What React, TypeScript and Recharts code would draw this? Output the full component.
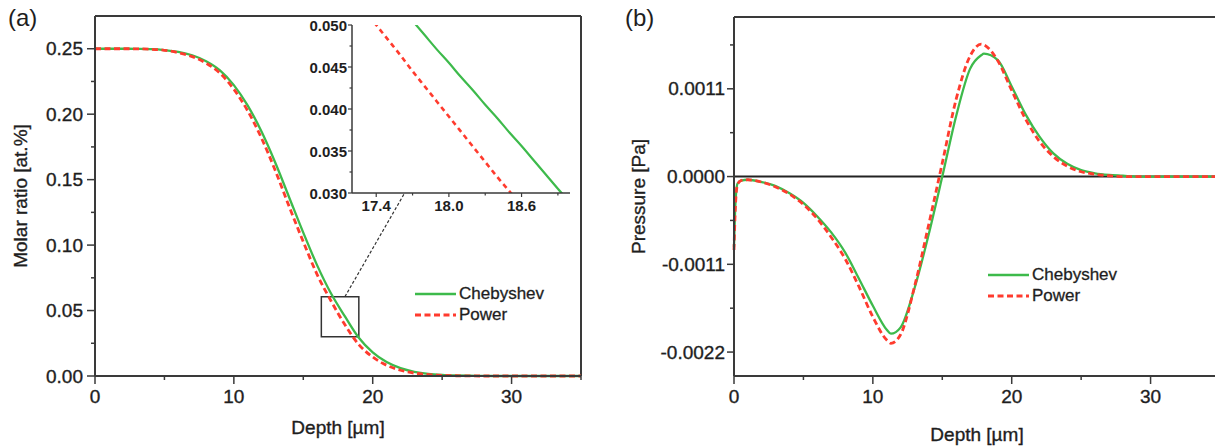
import React from 'react';
import { LineChart, Line, XAxis, YAxis, ReferenceLine, ReferenceArea, Legend } from 'recharts';

const FONT = '"Liberation Sans", Arial, Helvetica, sans-serif';
const INK = '#1e1e1e';
const AXIS = '#3a3a3a';
const GREEN = '#3dba4b';
const RED = '#ff3b2e';

// (a) molar ratio vs depth
const depthA = [0, 1, 2, 3, 4, 5, 6, 7, 8, 9, 10, 11, 12, 13, 14, 15, 16, 17, 18, 19, 20, 21, 22, 23, 24, 25, 26, 27, 28, 29, 30, 31, 32, 33, 34, 35];
const chebA = [0.25, 0.25, 0.25, 0.2499, 0.2497, 0.249, 0.2476, 0.245, 0.2405, 0.2335, 0.2222, 0.2065, 0.1865, 0.1625, 0.136, 0.1095, 0.0845, 0.063, 0.0455, 0.0292, 0.018, 0.0106, 0.006, 0.0032, 0.0016, 0.0008, 0.0004, 0.0002, 0.0001, 0, 0, 0, 0, 0, 0, 0];
const powerA = [0.25, 0.25, 0.25, 0.2499, 0.2496, 0.2488, 0.247, 0.244, 0.239, 0.2313, 0.219, 0.2025, 0.1815, 0.1565, 0.129, 0.1025, 0.0775, 0.0573, 0.0391, 0.024, 0.0145, 0.0082, 0.0044, 0.0022, 0.0011, 0.0005, 0.0002, 0.0001, 0, 0, 0, 0, 0, 0, 0, 0];

// inset: zoom on 17.2-19.0 um
const depthIn = [17.2, 17.3, 17.4, 17.5, 17.6, 17.7, 17.8, 17.9, 18.0, 18.1, 18.2, 18.3, 18.4, 18.5, 18.6, 18.7, 18.8, 18.9, 19.0];
const chebIn = [0.0593, 0.0575, 0.0557, 0.0539, 0.0522, 0.0505, 0.0488, 0.0471, 0.0455, 0.0438, 0.0422, 0.0405, 0.0389, 0.0372, 0.0356, 0.0339, 0.0322, 0.0305, 0.0289];
const powerIn = [0.0537, 0.0518, 0.05, 0.0482, 0.0464, 0.0445, 0.0427, 0.0409, 0.0391, 0.0373, 0.0355, 0.0337, 0.0319, 0.0302, 0.0285, 0.0269, 0.0253, 0.0238, 0.0224];

// (b) pressure vs depth
const depthB = [0, 0.1, 0.25, 0.5, 1, 2, 3, 4, 5, 6, 7, 8, 9, 10, 11, 11.3, 12, 13, 14, 15, 16, 17, 17.8, 18, 19, 20, 21, 22, 23, 24, 25, 26, 27, 28, 29, 30, 35];
const chebB = [-0.00088, -0.00035, -0.00009, -0.00005, -0.00004, -0.00007, -0.00012, -0.00021, -0.00033, -0.0005, -0.0007, -0.00095, -0.00128, -0.00162, -0.00192, -0.00197, -0.00189, -0.0014, -0.00074, 0, 0.00076, 0.00135, 0.00152, 0.00154, 0.00146, 0.00113, 0.00078, 0.0005, 0.00029, 0.00016, 0.00008, 0.00004, 0.00002, 0.00001, 0, 0, 0];
const powerB = [-0.00092, -0.00038, -0.0001, -0.00005, -0.00004, -0.00007, -0.00013, -0.00022, -0.00035, -0.00053, -0.00076, -0.00103, -0.00138, -0.00176, -0.00205, -0.00209, -0.00198, -0.00138, -0.00062, 0.00017, 0.00097, 0.00151, 0.00166, 0.00165, 0.00145, 0.00108, 0.00072, 0.00044, 0.00025, 0.00013, 0.00006, 0.00003, 0.00001, 0, 0, 0, 0];

const xTicks = [0, 5, 10, 15, 20, 25, 30, 35];
const xMajors = [0, 10, 20, 30];
const yTicksA = [0, 0.025, 0.05, 0.075, 0.1, 0.125, 0.15, 0.175, 0.2, 0.225, 0.25];
const yMajorsA = [0, 0.05, 0.1, 0.15, 0.2, 0.25];
const yTicksB = [-0.0022, -0.00165, -0.0011, -0.00055, 0, 0.00055, 0.0011, 0.00165];
const yMajorsB = [-0.0022, -0.0011, 0, 0.0011];
const xTicksIn = [17.4, 17.7, 18.0, 18.3, 18.6, 18.9];
const xMajorsIn = [17.4, 18.0, 18.6];
const yTicksIn = [0.03, 0.0325, 0.035, 0.0375, 0.04, 0.0425, 0.045, 0.0475, 0.05];
const yMajorsIn = [0.03, 0.035, 0.04, 0.045, 0.05];

const rowsA = depthA.map((d, i) => ({ depth: d, cheb: chebA[i], power: powerA[i] }));
const rowsIn = depthIn.map((d, i) => ({ depth: d, cheb: chebIn[i], power: powerIn[i] }));
const rowsB = depthB.map((d, i) => ({ depth: d, cheb: chebB[i], power: powerB[i] }));

const isMajor = (list: number[], v: number) => list.some((m) => Math.abs(m - v) < 1e-9);

// the scanned figure's text reads a little heavier than plain Liberation Sans
const heavy = (fs: number, bold = false) => ({
  fontFamily: FONT,
  fontSize: fs,
  fontWeight: bold ? 700 : 400,
  fill: INK,
  stroke: INK,
  strokeWidth: bold ? 0 : 0.35,
});

// ticks drawn by hand so minor ticks get a shorter mark and no label
const leftTick = (majors: number[], fmt: (v: number) => string, size: number, minor: number, margin: number, fs: number, w = 1.5, bold = false) => (props: any) => {
  const { x, y, payload } = props;
  const ax = x + size + margin;
  const big = isMajor(majors, payload.value);
  return (
    <g>
      <line x1={ax} x2={ax - (big ? size : minor)} y1={y} y2={y} stroke={AXIS} strokeWidth={w} />
      {big && (
        <text x={x} y={y} textAnchor="end" dominantBaseline="central" {...heavy(fs, bold)}>
          {fmt(payload.value)}
        </text>
      )}
    </g>
  );
};

const bottomTick = (majors: number[], fmt: (v: number) => string, size: number, minor: number, margin: number, fs: number, w = 1.5, bold = false) => (props: any) => {
  const { x, y, payload } = props;
  const ay = y - size - margin;
  const big = isMajor(majors, payload.value);
  return (
    <g>
      <line x1={x} x2={x} y1={ay} y2={ay + (big ? size : minor)} stroke={AXIS} strokeWidth={w} />
      {big && (
        <text x={x} y={y} dy="0.71em" textAnchor="middle" {...heavy(fs, bold)}>
          {fmt(payload.value)}
        </text>
      )}
    </g>
  );
};

const XTitle = ({ viewBox, text, dy }: any) => {
  const { x = 0, y = 0, width = 0 } = viewBox || {};
  return (
    <text x={x + width / 2} y={y + dy} textAnchor="middle" {...heavy(19)}>
      {text}
    </text>
  );
};

const YTitle = ({ viewBox, text, dx }: any) => {
  const { x = 0, y = 0, height = 0 } = viewBox || {};
  const cx = x + dx;
  const cy = y + height / 2;
  return (
    <text x={cx} y={cy} transform={`rotate(-90 ${cx} ${cy})`} textAnchor="middle" dominantBaseline="central" {...heavy(19)}>
      {text}
    </text>
  );
};

const DASH: Record<string, string | undefined> = { power: '6 3.5' };

const LegendBox = ({ payload }: any) => (
  <div style={{ fontFamily: FONT, fontSize: 17, color: INK, WebkitTextStroke: '0.3px #1e1e1e' }}>
    {(payload || []).map((p: any) => (
      <div key={p.value} style={{ display: 'flex', alignItems: 'center', height: 21.5 }}>
        <svg width={41} height={6} style={{ display: 'block' }}>
          <line x1={0} x2={41} y1={3} y2={3} stroke={p.color} strokeWidth={p.dataKey === 'power' ? 2.8 : 2.3} strokeDasharray={DASH[p.dataKey]} />
        </svg>
        <span style={{ marginLeft: 3 }}>{p.value}</span>
      </div>
    ))}
  </div>
);

const panelTag: React.CSSProperties = { position: 'absolute', fontFamily: FONT, fontSize: 24, color: INK, lineHeight: 'normal' };

export default function App() {
  return (
    <div style={{ position: 'absolute', left: 0, top: 0, width: 1215, height: 448, overflow: 'hidden', background: '#fff' }}>
      <div style={{ ...panelTag, left: 8, top: 4 }}>(a)</div>
      <div style={{ ...panelTag, left: 625, top: 4 }}>(b)</div>

      {/* (a) */}
      <div style={{ position: 'absolute', left: 0, top: 0 }}>
        <LineChart width={600} height={448} data={rowsA} margin={{ top: 16, right: 19, bottom: 0, left: 0 }}>
          <XAxis
            dataKey="depth"
            type="number"
            domain={[0, 35]}
            ticks={xTicks}
            interval={0}
            height={72}
            tickSize={8}
            tickMargin={6}
            tickLine={false}
            axisLine={{ stroke: AXIS, strokeWidth: 2 }}
            tick={bottomTick(xMajors, (v) => String(v), 8, 4, 6, 19)}
            label={<XTitle text="Depth [µm]" dy={58} />}
          />
          <YAxis
            type="number"
            domain={[0, 0.275]}
            ticks={yTicksA}
            interval={0}
            width={95}
            tickSize={8}
            tickMargin={4}
            tickLine={false}
            axisLine={{ stroke: AXIS, strokeWidth: 2 }}
            tick={leftTick(yMajorsA, (v) => v.toFixed(2), 8, 4, 4, 19)}
            label={<YTitle text="Molar ratio [at.%]" dx={20} />}
          />
          <ReferenceLine y={0.275} stroke={AXIS} strokeWidth={2} />
          <ReferenceLine x={35} stroke={AXIS} strokeWidth={2} />
          <ReferenceArea x1={16.3} x2={19} y1={0.03} y2={0.0606} fill="none" stroke="#333" strokeWidth={1.5} />
          <ReferenceLine segment={[{ x: 18.0, y: 0.0606 }, { x: 22.3, y: 0.1398 }]} stroke="#333" strokeWidth={1.2} strokeDasharray="3 2" />
          <Line type="monotone" dataKey="cheb" name="Chebyshev" stroke={GREEN} strokeWidth={2.3} dot={false} isAnimationActive={false} />
          <Line type="monotone" dataKey="power" name="Power" stroke={RED} strokeWidth={2.8} strokeDasharray="6 3.5" dot={false} isAnimationActive={false} />
          <Legend content={<LegendBox />} layout="vertical" align="center" verticalAlign="middle" wrapperStyle={{ left: 415, top: 283, width: 'auto' }} />
        </LineChart>
      </div>

      {/* inset of (a) */}
      <div style={{ position: 'absolute', left: 290, top: 0 }}>
        <LineChart width={290} height={215} data={rowsIn} margin={{ top: 25, right: 10, bottom: 0, left: 0 }}>
          <XAxis
            dataKey="depth"
            type="number"
            domain={[17.2, 19.0]}
            allowDataOverflow
            ticks={xTicksIn}
            interval={0}
            height={22}
            tickSize={4}
            tickMargin={3}
            tickLine={false}
            axisLine={{ stroke: AXIS, strokeWidth: 1.5 }}
            tick={bottomTick(xMajorsIn, (v) => v.toFixed(1), 4, 2.5, 3, 15, 1.2, true)}
          />
          <YAxis
            type="number"
            domain={[0.03, 0.05]}
            allowDataOverflow
            ticks={yTicksIn}
            interval={0}
            width={62}
            tickSize={4}
            tickMargin={1}
            tickLine={false}
            axisLine={{ stroke: AXIS, strokeWidth: 1.5 }}
            tick={leftTick(yMajorsIn, (v) => v.toFixed(3), 4, 2.5, 1, 15, 1.2, true)}
          />
          <Line type="monotone" dataKey="cheb" stroke={GREEN} strokeWidth={2.2} dot={false} isAnimationActive={false} />
          <Line type="monotone" dataKey="power" stroke={RED} strokeWidth={2.6} strokeDasharray="5 4" dot={false} isAnimationActive={false} />
        </LineChart>
      </div>

      {/* (b) */}
      <div style={{ position: 'absolute', left: 600, top: 0 }}>
        <LineChart width={620} height={448} data={rowsB} margin={{ top: 17, right: 0, bottom: 0, left: 0 }}>
          <XAxis
            dataKey="depth"
            type="number"
            domain={[0, 35]}
            ticks={xTicks}
            interval={0}
            height={72}
            tickSize={8}
            tickMargin={6}
            tickLine={false}
            axisLine={{ stroke: AXIS, strokeWidth: 2 }}
            tick={bottomTick(xMajors, (v) => String(v), 8, 4, 6, 19)}
            label={<XTitle text="Depth [µm]" dy={65} />}
          />
          <YAxis
            type="number"
            domain={[-0.0025, 0.002]}
            ticks={yTicksB}
            interval={0}
            width={134}
            tickSize={7}
            tickMargin={2}
            tickLine={false}
            axisLine={{ stroke: AXIS, strokeWidth: 2 }}
            tick={leftTick(yMajorsB, (v) => v.toFixed(4), 7, 4, 2, 19)}
            label={<YTitle text="Pressure [Pa]" dx={38} />}
          />
          <ReferenceLine y={0.002} stroke={AXIS} strokeWidth={2} />
          <ReferenceLine y={0} stroke="#222" strokeWidth={2} />
          <Line type="monotone" dataKey="cheb" name="Chebyshev" stroke={GREEN} strokeWidth={2.3} dot={false} isAnimationActive={false} />
          <Line type="monotone" dataKey="power" name="Power" stroke={RED} strokeWidth={2.8} strokeDasharray="6 3.5" dot={false} isAnimationActive={false} />
          <Legend content={<LegendBox />} layout="vertical" align="center" verticalAlign="middle" wrapperStyle={{ left: 388, top: 264, width: 'auto' }} />
        </LineChart>
      </div>
    </div>
  );
}
